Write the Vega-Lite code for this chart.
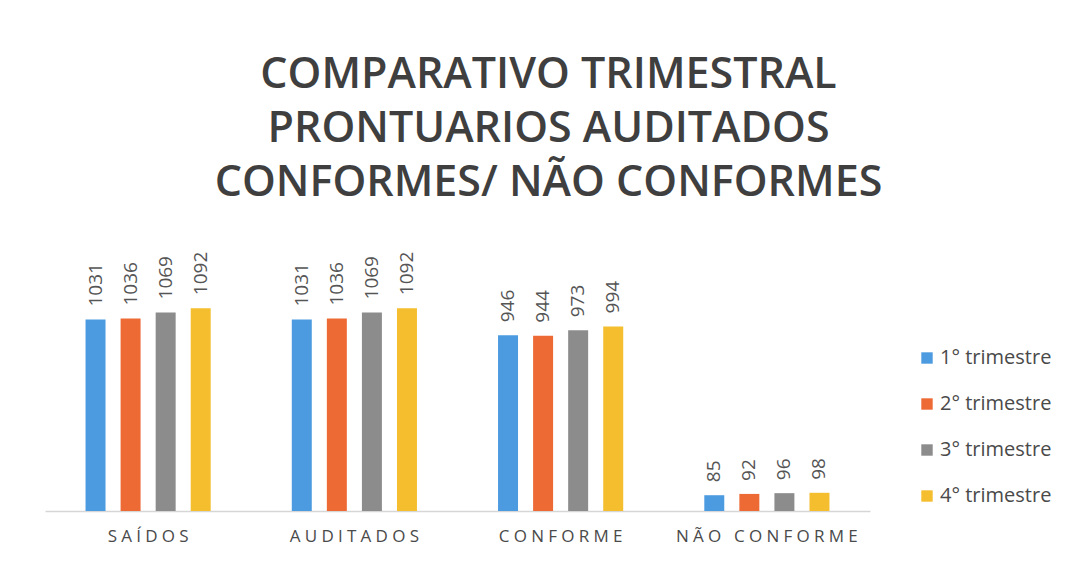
{
  "$schema": "https://vega.github.io/schema/vega-lite/v6.json",
  "width": 825,
  "height": 260,
  "padding": {"left": 45, "top": 54, "right": 10, "bottom": 10},
  "background": "white",
  "view": {"stroke": null},
  "title": {
    "text": ["COMPARATIVO TRIMESTRAL", "PRONTUARIOS AUDITADOS", "CONFORMES/ NÃO CONFORMES"],
    "font": "Open Sans",
    "fontSize": 43,
    "fontWeight": 600,
    "color": "#3f3f3f",
    "lineHeight": 54,
    "anchor": "middle",
    "frame": "bounds",
    "offset": 46
  },
  "data": {
    "values": [
      {"categoria": "SAÍDOS", "trimestre": "1° trimestre", "valor": 1031},
      {"categoria": "SAÍDOS", "trimestre": "2° trimestre", "valor": 1036},
      {"categoria": "SAÍDOS", "trimestre": "3° trimestre", "valor": 1069},
      {"categoria": "SAÍDOS", "trimestre": "4° trimestre", "valor": 1092},
      {"categoria": "AUDITADOS", "trimestre": "1° trimestre", "valor": 1031},
      {"categoria": "AUDITADOS", "trimestre": "2° trimestre", "valor": 1036},
      {"categoria": "AUDITADOS", "trimestre": "3° trimestre", "valor": 1069},
      {"categoria": "AUDITADOS", "trimestre": "4° trimestre", "valor": 1092},
      {"categoria": "CONFORME", "trimestre": "1° trimestre", "valor": 946},
      {"categoria": "CONFORME", "trimestre": "2° trimestre", "valor": 944},
      {"categoria": "CONFORME", "trimestre": "3° trimestre", "valor": 973},
      {"categoria": "CONFORME", "trimestre": "4° trimestre", "valor": 994},
      {"categoria": "NÃO CONFORME", "trimestre": "1° trimestre", "valor": 85},
      {"categoria": "NÃO CONFORME", "trimestre": "2° trimestre", "valor": 92},
      {"categoria": "NÃO CONFORME", "trimestre": "3° trimestre", "valor": 96},
      {"categoria": "NÃO CONFORME", "trimestre": "4° trimestre", "valor": 98}
    ]
  },
  "encoding": {
    "x": {
      "field": "categoria",
      "type": "nominal",
      "sort": ["SAÍDOS", "AUDITADOS", "CONFORME", "NÃO CONFORME"],
      "scale": {"paddingInner": 0.32, "paddingOuter": 0.16},
      "axis": {
        "title": null,
        "labelAngle": 0,
        "labelFont": "Open Sans",
        "labelFontSize": 17,
        "labelColor": "#4a4a4a",
        "labelPadding": 17,
        "labelLimit": 400,
        "labelExpr": "join(split(datum.label, ''), '\u2005')",
        "ticks": false,
        "domainColor": "#d6d6d6",
        "domainWidth": 1.5
      }
    },
    "xOffset": {
      "field": "trimestre",
      "type": "nominal",
      "scale": {"paddingInner": 0.43, "paddingOuter": 0.215}
    },
    "y": {
      "field": "valor",
      "type": "quantitative",
      "scale": {"domain": [0, 1400]},
      "axis": null
    }
  },
  "layer": [
    {
      "mark": {"type": "bar"},
      "encoding": {
        "color": {
          "field": "trimestre",
          "type": "nominal",
          "scale": {
            "domain": ["1° trimestre", "2° trimestre", "3° trimestre", "4° trimestre"],
            "range": ["#4C9BE0", "#EE6A35", "#8C8C8C", "#F4BE2E"]
          },
          "legend": {
            "title": null,
            "orient": "none",
            "legendX": 872,
            "legendY": 97,
            "symbolType": "square",
            "symbolSize": 130,
            "symbolStrokeWidth": 0,
            "labelFont": "Open Sans",
            "labelFontSize": 20,
            "labelColor": "#4a4a4a",
            "rowPadding": 26,
            "labelOffset": 3
          }
        }
      }
    },
    {
      "mark": {
        "type": "text",
        "angle": 270,
        "align": "left",
        "baseline": "middle",
        "dx": 13,
        "font": "Open Sans",
        "fontSize": 19,
        "color": "#555555"
      },
      "encoding": {
        "text": {"field": "valor", "type": "quantitative"}
      }
    }
  ]
}
